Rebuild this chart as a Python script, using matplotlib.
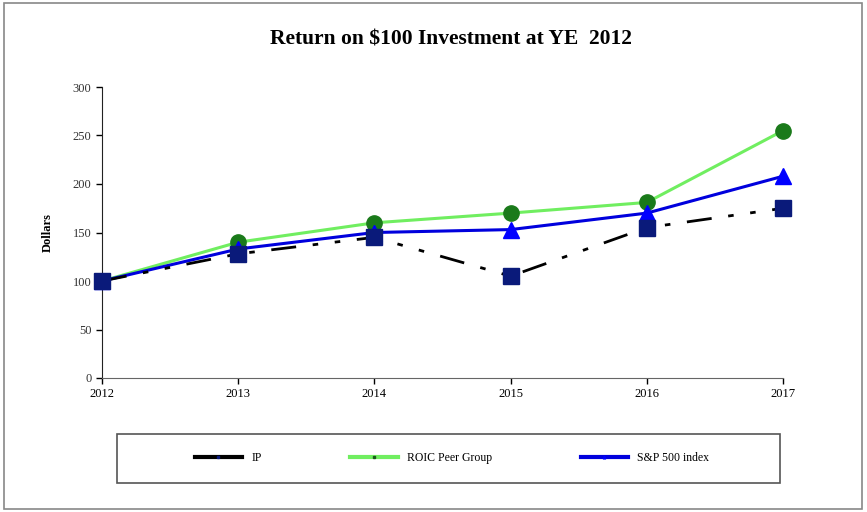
import matplotlib
matplotlib.use("Agg")
import matplotlib.pyplot as plt
from matplotlib.lines import Line2D
from matplotlib.patches import Rectangle

years = ["2012", "2013", "2014", "2015", "2016", "2017"]
ip = [100, 128, 145, 105, 155, 175]
roic = [100, 140, 160, 170, 181, 255]
sp500 = [100, 133, 150, 153, 170, 208]
yticks = [0, 50, 100, 150, 200, 250, 300]

plt.rcParams['font.family'] = ['Liberation Serif', 'DejaVu Serif']

fig = plt.figure(figsize=(8.67, 5.12), dpi=100)
ax = fig.add_axes([102/867, 1-378/512, (783-102)/867, (378-87)/512])

x = list(range(len(years)))
ax.plot(x, roic, color='#70ee60', lw=2.2, marker='o', ms=11, mfc='#1a7a1a', mec='#1a7a1a', zorder=3)
ax.plot(x, sp500, color='#0000dd', lw=2.2, marker='^', ms=12, mfc='#0000ff', mec='#0000ff', zorder=4)
ax.plot(x, ip, color='black', lw=2.0, dashes=[9, 6, 2, 6, 2, 6], marker='s', ms=12,
        mfc='#0a1a7a', mec='#0a1a7a', zorder=5)

ax.set_xlim(0, 5)
ax.set_ylim(0, 300)
ax.set_xticks(x)
ax.set_xticklabels(years, fontsize=9)
ax.set_yticks(yticks)
ax.set_yticklabels([str(v) for v in yticks], fontsize=9, color='#333333')
for s in ['top', 'right']:
    ax.spines[s].set_visible(False)
ax.spines['left'].set_color('#222222')
ax.spines['bottom'].set_color('#666666')
ax.tick_params(axis='both', direction='out', length=4, width=1)
ax.set_ylabel('Dollars', fontsize=9, fontweight='bold', labelpad=14)
for l in ax.lines:
    l.set_clip_on(False)

fig.text(451/867, 1-40/512, 'Return on $100 Investment at YE  2012', ha='center', va='center',
         fontsize=15.5, fontweight='bold')

# outer frame
fig.patches.append(Rectangle((4/867, 3/512), 858/867, 506/512, transform=fig.transFigure,
                             fill=False, edgecolor='#888888', lw=1.2))
# legend box
fig.patches.append(Rectangle((117/867, 1-483/512), (780-117)/867, (483-434)/512,
                             transform=fig.transFigure, fill=False, edgecolor='#555555', lw=1.2))

handles = [
    Line2D([], [], color='black', lw=3, marker='s', ms=2, mfc='#0a1a7a', mec='#0a1a7a'),
    Line2D([], [], color='#70ee60', lw=3, marker='s', ms=2, mfc='#1a5a1a', mec='#1a5a1a'),
    Line2D([], [], color='#0000dd', lw=3, marker='^', ms=2, mfc='#0000ff', mec='#0000ff'),
]
labels = ['IP', 'ROIC Peer Group', 'S&P 500 index']
leg = fig.legend(handles, labels, loc='center', ncol=3, frameon=False,
                 fontsize=8.5, handlelength=4, columnspacing=7.5,
                 bbox_to_anchor=(452/867, 1-458/512), handletextpad=0.8)

fig.savefig('out.png', dpi=100)
